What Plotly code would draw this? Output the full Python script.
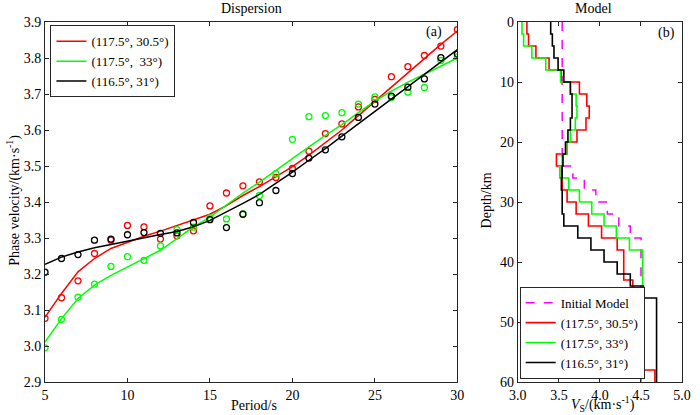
import plotly.graph_objects as go
from plotly.subplots import make_subplots

# Dispersion data (period in s, phase velocity in km/s)
periods = list(range(5, 31))

red_obs = [3.077, 3.134, 3.181, 3.257, 3.294, 3.335, 3.331, 3.297, 3.306, 3.320,
           3.389, 3.425, 3.445, 3.456, 3.468, 3.493, 3.541, 3.590, 3.617, 3.664,
           3.685, 3.748, 3.776, 3.807, 3.833, 3.879]
green_obs = [2.995, 3.074, 3.136, 3.172, 3.221, 3.248, 3.238, 3.278, 3.323, 3.330,
             3.356, 3.353, 3.367, 3.418, 3.479, 3.574, 3.637, 3.640, 3.648, 3.672,
             3.692, 3.690, 3.705, 3.718, 3.793, 3.803]
black_obs = [3.205, 3.243, 3.254, 3.294, 3.297, 3.309, 3.315, 3.313, 3.314, 3.343,
             3.351, 3.329, 3.366, 3.398, 3.432, 3.479, 3.522, 3.545, 3.581, 3.635,
             3.672, 3.694, 3.719, 3.742, 3.801, 3.811]

red_fit = [3.080, 3.146, 3.206, 3.243, 3.271, 3.289, 3.305, 3.319, 3.334, 3.349,
           3.366, 3.390, 3.418, 3.443, 3.470, 3.498, 3.530, 3.565, 3.600, 3.640,
           3.680, 3.720, 3.760, 3.800, 3.838, 3.875]
green_fit = [3.011, 3.076, 3.132, 3.169, 3.196, 3.219, 3.243, 3.266, 3.298, 3.331,
             3.358, 3.391, 3.425, 3.455, 3.488, 3.522, 3.553, 3.585, 3.615, 3.648,
             3.680, 3.708, 3.733, 3.755, 3.778, 3.800]
black_fit = [3.227, 3.247, 3.261, 3.273, 3.282, 3.292, 3.301, 3.310, 3.318, 3.331,
             3.349, 3.372, 3.396, 3.421, 3.451, 3.483, 3.516, 3.548, 3.583, 3.617,
             3.652, 3.686, 3.720, 3.755, 3.789, 3.823]

# Velocity models: layer top depth (km) and Vs (km/s), bottom at 60 km
max_depth = 60
init_top = [0, 24, 26, 28, 30, 32, 34, 36]
init_vs = [3.54, 3.67, 3.81, 3.95, 4.09, 4.23, 4.37, 4.50]

red_top = [0, 2, 4, 6, 8, 10, 12, 14, 16, 18, 20, 22, 24, 26, 28, 30, 32, 34, 36, 38, 43, 48, 58]
red_vs = [3.11, 3.13, 3.22, 3.38, 3.53, 3.75, 3.84, 3.87, 3.83, 3.72, 3.60, 3.47,
          3.53, 3.54, 3.60, 3.71, 3.86, 4.02, 4.21, 4.29, 4.40, 4.53, 4.67]

green_top = [0, 2, 4, 6, 8, 10, 12, 14, 16, 18, 20, 22, 24, 26, 28, 30, 32, 34, 36, 38, 48]
green_vs = [3.05, 3.07, 3.17, 3.34, 3.52, 3.64, 3.71, 3.72, 3.70, 3.64, 3.60, 3.54,
            3.51, 3.62, 3.75, 3.90, 4.05, 4.20, 4.36, 4.52, 4.50]

black_top = [0, 2, 4, 6, 8, 10, 12, 14, 16, 18, 20, 22, 24, 26, 28, 30, 32, 34, 36, 38, 40, 42, 44, 46]
black_vs = [3.40, 3.42, 3.44, 3.49, 3.56, 3.64, 3.66, 3.66, 3.64, 3.61, 3.58, 3.55,
            3.54, 3.53, 3.54, 3.54, 3.56, 3.73, 3.89, 4.05, 4.21, 4.37, 4.53, 4.69]

names = ["(117.5°, 30.5°)", "(117.5°,\u00a0\u00a033°)", "(116.5°, 31°)"]
names_b = ["(117.5°, 30.5°)", "(117.5°, 33°)", "(116.5°, 31°)"]
colors = ["#ff0000", "#00ff00", "#000000"]

FONT = "Liberation Serif, Times New Roman, serif"

fig = make_subplots(rows=1, cols=2, horizontal_spacing=0.095, column_widths=[0.7153, 0.2847])

for fit, obs, name, c in zip([red_fit, green_fit, black_fit], [red_obs, green_obs, black_obs], names, colors):
    fig.add_trace(go.Scatter(x=periods, y=fit, mode="lines", name=name,
                             line=dict(color=c, width=1.5), legend="legend"), row=1, col=1)
    fig.add_trace(go.Scatter(x=periods, y=obs, mode="markers", showlegend=False,
                             marker=dict(symbol="circle-open", size=6, color=c, line=dict(width=1.3))),
                  row=1, col=1)


def step(tops, vs):
    return vs + [vs[-1]], tops + [max_depth]


x, y = step(init_top, init_vs)
fig.add_trace(go.Scatter(x=x, y=y, mode="lines", line_shape="vh", name="Initial Model",
                         line=dict(color="#ff00ff", width=1.5, dash="dash"), legend="legend2"),
              row=1, col=2)
for tops, vs, name, c in zip([red_top, green_top, black_top], [red_vs, green_vs, black_vs], names_b, colors):
    x, y = step(tops, vs)
    fig.add_trace(go.Scatter(x=x, y=y, mode="lines", line_shape="vh", name=name,
                             line=dict(color=c, width=1.6), legend="legend2"), row=1, col=2)

axis_style = dict(showline=True, linecolor="#262626", linewidth=1, mirror="ticks",
                  ticks="inside", ticklen=4, tickcolor="#262626", showgrid=False, zeroline=False,
                  tickfont=dict(family=FONT, size=14, color="black"))

fig.update_xaxes(range=[5, 30], dtick=5, **axis_style, row=1, col=1)
fig.update_yaxes(range=[2.9, 3.9], dtick=0.1, tickformat=".1f", **axis_style, row=1, col=1)
fig.update_xaxes(range=[3, 5], dtick=0.5, tickformat=".1f", **axis_style, row=1, col=2)
fig.update_yaxes(range=[60, 0], dtick=10, **axis_style, row=1, col=2)


def px(xp, yp):
    return (xp - 45) / 645.5, (381.7 - yp) / 360


texts = [
    ("Dispersion", 254, 8, 0),
    ("Model", 601, 8, 0),
    ("Period/s", 257, 405, 0),
    ("<i>V</i><sub>S</sub>/(km·s<sup>-1</sup>)", 610, 404, 0),
    ("Phase velocity/(km·s<sup>-1</sup>)", 13, 200, -90),
    ("Depth/km", 492, 200, -90),
    ("(a)", 439, 32, 0),
    ("(b)", 675, 33, 0),
]
for t, xp, yp, ang in texts:
    ax, ay = px(xp, yp)
    fig.add_annotation(text=t, x=ax, y=ay, xref="paper", yref="paper", showarrow=False,
                       xanchor="center", yanchor="middle", textangle=ang,
                       font=dict(family=FONT, size=14, color="black"))

lx, ly = px(50.5, 25)
rx, ry = px(526, 378.5)
legend_style = dict(bgcolor="white", bordercolor="#262626", borderwidth=1, itemwidth=30,
                    font=dict(family=FONT, size=13, color="black"), tracegroupgap=0)

fig.update_layout(
    width=700, height=415,
    margin=dict(l=45, r=9.5, t=21.7, b=33.3),
    paper_bgcolor="white", plot_bgcolor="white",
    showlegend=True,
    legend=dict(x=lx, y=ly, xanchor="left", yanchor="top", **legend_style),
    legend2=dict(x=rx, y=ry, xanchor="left", yanchor="bottom", **legend_style),
)

# drop the default page margin and scrollbars so the figure fills the window
page_fix = ("document.body.style.margin = '0px';"
            "document.body.style.overflow = 'hidden';"
            "document.documentElement.style.overflow = 'hidden';")
fig.write_html("out.html", config={"displayModeBar": False}, post_script=page_fix)
